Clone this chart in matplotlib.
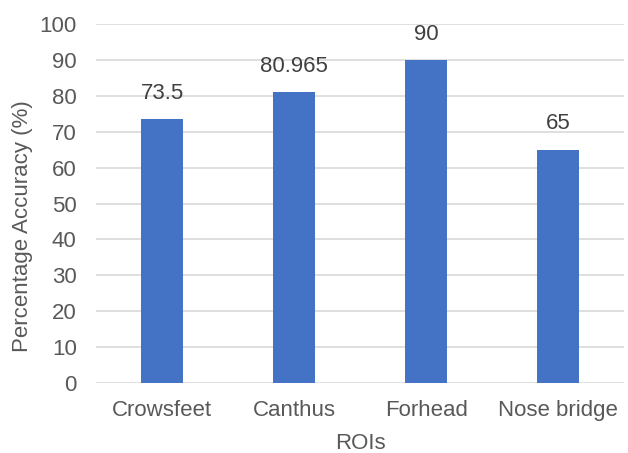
import matplotlib
matplotlib.use("Agg")
import matplotlib.pyplot as plt

categories = ["Crowsfeet", "Canthus", "Forhead", "Nose bridge"]
accuracy = [73.5, 80.965, 90, 65]
value_labels = ["73.5", "80.965", "90", "65"]
y_ticks = [0, 10, 20, 30, 40, 50, 60, 70, 80, 90, 100]

plt.rcParams["font.family"] = ["Liberation Sans", "DejaVu Sans"]
text_color = "#595959"
fs = 16

fig = plt.figure(figsize=(6.28, 4.53), dpi=100)
ax = fig.add_axes([0.153, 0.1545, 0.841, 0.7925])

x = range(len(categories))
ax.bar(x, accuracy, width=0.32, color="#4472C4", zorder=3)
for xi, v, lab in zip(x, accuracy, value_labels):
    ax.annotate(lab, (xi, v), xytext=(0, 11), textcoords="offset points",
                ha="center", va="bottom", fontsize=fs, color="#404040")

ax.set_xlim(-0.5, len(categories) - 0.5)
ax.set_ylim(0, 100)
ax.set_yticks(y_ticks)
ax.set_xticks(list(x))
ax.set_xticklabels(categories)
ax.tick_params(axis="both", length=0, labelsize=fs, labelcolor=text_color)
ax.tick_params(axis="x", pad=12)
ax.tick_params(axis="y", pad=14)
ax.grid(axis="y", color="#d9d9d9", linewidth=1.2, zorder=0)
for s in ax.spines.values():
    s.set_visible(False)

ax.set_xlabel("ROIs", fontsize=fs, color=text_color, labelpad=9)
ax.set_ylabel("Percentage Accuracy (%)", fontsize=fs, color=text_color)
ax.yaxis.set_label_coords(33 / 628, 0.5, transform=fig.transFigure)

fig.savefig("out.png", dpi=100)
